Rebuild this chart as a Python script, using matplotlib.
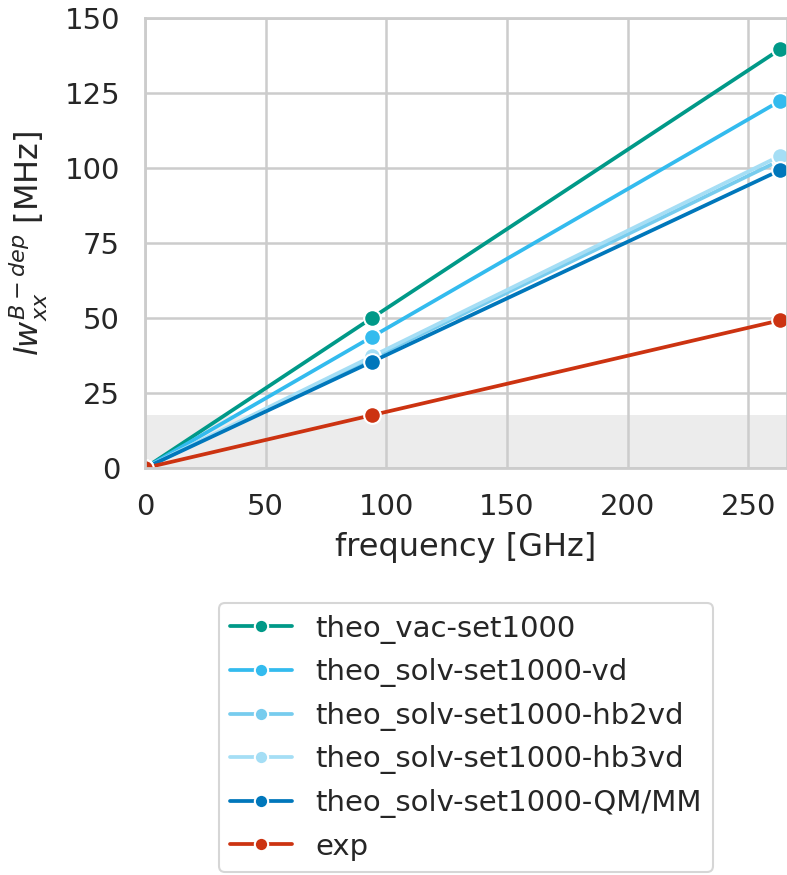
import numpy as np
import matplotlib.pyplot as plt
import seaborn as sns

freq = [0, 94, 263]
vac = [0, 50.0, 139.5]
vd = [0, 43.7, 122.3]
hb2vd = [0, 36.6, 102.5]
hb3vd = [0, 37.2, 104.0]
qmmm = [0, 35.4, 99.2]
exp = [0, 17.6, 49.2]

labels = ["theo_vac-set1000", "theo_solv-set1000-vd", "theo_solv-set1000-hb2vd",
          "theo_solv-set1000-hb3vd", "theo_solv-set1000-QM/MM", "exp"]
colors = ["#009988", "#33BBEE", "#77CCEE", "#A5DEF5", "#0077BB", "#CC3311"]

sns.set_theme(style="whitegrid")
plt.rcParams['font.family'] = ['DejaVu Sans']

fig = plt.figure(figsize=(7.87, 8.75), dpi=100)
ax = fig.add_axes([145 / 787, 1 - 468 / 875, 642 / 787, 450 / 875])

# shaded band up to the measured value at 94 GHz
ax.axhspan(-5, exp[1], color="#ececec", zorder=0, lw=0)

for vals, lab, c in zip([vac, vd, hb2vd, hb3vd, qmmm, exp], labels, colors):
    ax.plot(freq, vals, "-o", color=c, label=lab, lw=2.7, ms=12,
            markeredgecolor="white", markeredgewidth=1.5, clip_on=True)

ax.set_xlim(0, 266)
ax.set_ylim(0, 150)
ax.set_xticks([0, 50, 100, 150, 200, 250])
ax.set_yticks([0, 25, 50, 75, 100, 125, 150])
ax.tick_params(labelsize=21, colors="#262626", pad=18, length=0)
for s in ax.spines.values():
    s.set_color("#cccccc")
    s.set_linewidth(2)
ax.grid(color="#cccccc", lw=1.8)
ax.set_xlabel("frequency [GHz]", fontsize=23, color="#262626", labelpad=8)
ax.set_ylabel(r"$lw_{xx}^{B-dep}$ [MHz]", fontsize=23, color="#262626", labelpad=10)

leg = ax.legend(loc="upper center", bbox_to_anchor=(0.5, -0.3), borderaxespad=0,
                fontsize=21, frameon=True, handlelength=2.1, labelspacing=0.5,
                markerscale=0.8)
leg.get_frame().set_edgecolor("#cccccc")
leg.get_frame().set_linewidth(1.5)
for t in leg.get_texts():
    t.set_color("#262626")

fig.savefig("out.png", dpi=100)
